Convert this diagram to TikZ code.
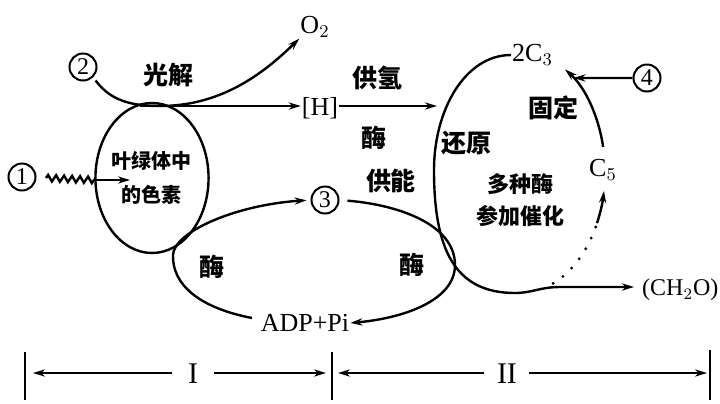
\documentclass[tikz,border=0pt]{standalone}
\usepackage{fontspec}
\setmainfont{Liberation Serif}
\newfontfamily\cjk{Noto Sans CJK SC}
\usetikzlibrary{arrows.meta,decorations.pathmorphing,shapes.geometric}
\begin{document}
\begin{tikzpicture}[x=0.5pt,y=-0.5pt,
  line width=1.2pt,
  >={Stealth[length=6pt,width=3.6pt]},
  cn/.style={font=\cjk\bfseries\fontsize{12.5}{14}\selectfont, inner sep=0pt},
  cns/.style={font=\cjk\bfseries\fontsize{11}{16}\selectfont, inner sep=0pt, align=center},
  lat/.style={font=\fontsize{13}{15}\selectfont, inner sep=0pt},
  num/.style={circle, draw, line width=1pt, inner sep=0pt, minimum size=13.5pt, font=\fontsize{12}{12}\selectfont},
  dotline/.style={line width=1.6pt, line cap=round, dash pattern=on 0pt off 6pt},
  roman/.style={font=\fontsize{15}{17}\selectfont, inner sep=0pt},
]
\useasboundingbox (0,0) rectangle (720,403);

% circled numbers
\node[num] (n2) at (83,67) {2};
\node[num] (n1) at (22,177) {1};
\node[num] (n3) at (325,200) {3};
\node[num] (n4) at (647,78) {4};

% labels
\node[cn] (gj) at (169,75) {光解};
\node[lat] (o2) at (315,27) {O$_2$};
\node[lat] (h) at (320,108) {[H]};
\node[cn] (gq) at (378,78) {供氢};
\node[cn] (m1) at (374,138) {酶};
\node[cn] (gn) at (391,181) {供能};
\node[draw, ellipse, minimum width=50pt, minimum height=75pt, inner sep=0pt, align=center,
      font=\cjk\bfseries\fontsize{10}{17}\selectfont] (pig) at (152,178) {叶绿体中\\的色素};
\node[cn] (hy) at (467,143) {还原};
\node[cn] (gd) at (554,108) {固定};
\node[cns] (dz) at (521,200) {多种酶\\参加催化};
\node[cn] (m2) at (212,267) {酶};
\node[cn] (m3) at (412,265) {酶};
\node[lat] (adp) at (305,323) {ADP+Pi};
\node[lat, anchor=west] (c3t) at (511,55) {2C$_3$};
\node[lat] (c5) at (603,170) {C$_5$};
\node[lat, anchor=west, font=\fontsize{12}{14}\selectfont] (ch) at (641,290) {(CH$_2$O)};

% coordinates
\coordinate (hs) at (140,106);
\coordinate (he) at (437,106);
\coordinate (ws) at (46,178);
\coordinate (w) at (94,180);
\coordinate (wt) at (130,180);
\coordinate (ls) at (252,318);
\coordinate (ce) at (634,287);
\coordinate (cc) at (520,172);
\path (cc) ++(309:85 and 121) coordinate (p4);

% light reaction
\draw[->, shorten <=2pt] (n2.south east) .. controls (110,100) and (130,106) .. (160,106)
      .. controls (220,106) and (262,75) .. (o2.south west);
\draw[->] (hs) -- (hs -| h.west);
\draw[->] (h.east |- hs) -- (he);
\draw[decorate, decoration={zigzag, segment length=4pt, amplitude=1.6pt}] (ws) -- (w);
\draw[->] (w) -- (wt);

% ATP loop
\draw[->, shorten >=2pt] (ls) .. controls (200,308) and (172,285) .. (173,255)
      .. controls (174,232) and (235,205) .. (n3.west);
\draw[->, shorten <=4pt] (n3.east) .. controls (400,205) and (455,225) .. (455,265)
      .. controls (455,300) and (405,318) .. (adp.east);

% Calvin cycle
\draw[->] (c3t.west) .. controls (465,55) and (434,110) .. (434,170)
      .. controls (434,250) and (455,293) .. (515,293)
      .. controls (532,293) and (540,287) .. (560,287) -- (ce);
\draw[->] (cc) ++(348:85 and 121) arc[start angle=348, end angle=302, x radius=85, y radius=121];
\draw[dotline] (cc) ++(67:85 and 121) arc[start angle=67, end angle=27, x radius=85, y radius=121];
\draw[->] (cc) ++(25:85 and 121) arc[start angle=25, end angle=9, x radius=85, y radius=121];
\draw[->] (n4.west) -- (p4);

% stage bar
\coordinate (b1t) at (25,352); \coordinate (b1b) at (25,400); \coordinate (b1m) at (25,373);
\coordinate (b2t) at (332,352); \coordinate (b2b) at (332,400); \coordinate (b2m) at (332,373);
\coordinate (b3t) at (710,350); \coordinate (b3b) at (710,400); \coordinate (b3m) at (710,373);
\draw (b1t) -- (b1b);
\draw (b2t) -- (b2b);
\draw (b3t) -- (b3b);
\node[roman] (l1) at (193,374) {I};
\node[roman] (l2) at (507,374) {II};
\draw[->, shorten <=7.5pt, shorten >=4pt] (l1.west |- b1m) -- (b1m);
\draw[->, shorten <=7.5pt, shorten >=3pt] (l1.east |- b1m) -- (b2m);
\draw[->, shorten <=6pt, shorten >=3pt] (l2.west |- b2m) -- (b2m);
\draw[->, shorten <=5.5pt, shorten >=1.5pt] (l2.east |- b3m) -- (b3m);
\end{tikzpicture}
\end{document}
